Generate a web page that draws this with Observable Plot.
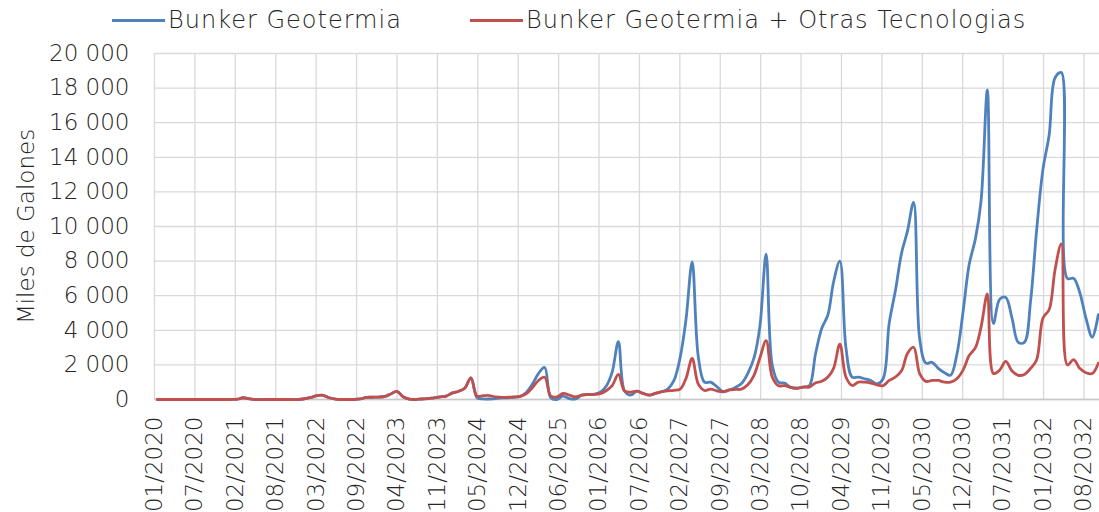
<!DOCTYPE html>
<html><head><meta charset="utf-8">
<script src="https://cdn.jsdelivr.net/npm/d3@7"></script>
<script src="https://cdn.jsdelivr.net/npm/@observablehq/plot@0.6"></script>
<style>
body{margin:0;background:#fff;font-family:"DejaVu Sans",sans-serif;color:#262626}
#wrap{position:relative;width:1099px;height:512px;overflow:hidden;background:#fff}
#legend{position:relative;height:40px;width:1099px;font-size:24px;letter-spacing:1px;font-weight:300}
.item{position:absolute;top:4px;height:32px;display:flex;align-items:center;white-space:nowrap}
.sw{display:inline-block;width:53px;height:3px;margin-right:3px}
</style></head>
<body><div id="wrap"><div id="legend"></div><div id="chart"></div></div>
<script>
// Series names
const seriesNames = ["Bunker Geotermia", "Bunker Geotermia + Otras Tecnologias"];
const seriesColors = ["#4F81BD", "#C0504D"];
// Monthly data from 01/2020 (one value per month)
const firstMonth = "2020-01";
const bunkerGeotermia = [
  0,0,0,0,0,0,0,0,0,0,0,0,0,20,100,40,0,0,0,0,0,0,0,0,
  50,120,220,240,100,20,0,0,0,30,120,130,140,180,320,470,160,20,0,30,50,100,150,200,
  380,480,650,1250,100,30,30,50,100,100,130,180,420,920,1500,1850,100,0,200,50,30,250,280,300,
  420,800,1580,3350,500,250,480,350,250,350,450,600,1100,2450,4570,7950,2500,1000,1000,750,450,550,700,920,
  1500,2400,4200,8400,2000,1000,950,700,650,720,800,2600,4100,4900,6800,8000,3000,1290,1290,1200,1100,900,1200,4400,
  6300,8500,9700,11400,3500,2100,2150,1800,1550,1400,2600,5000,7800,9300,11500,17900,4400,5800,5900,4700,3300,3300,5700,9800,
  13300,15300,18600,18900,7000,7000,6200,4700,3600,4900
];
const bunkerGeotermiaOtras = [
  0,0,0,0,0,0,0,0,0,0,0,0,0,20,100,40,0,0,0,0,0,0,0,0,
  50,120,220,240,100,20,0,0,0,30,120,130,140,180,320,470,160,20,0,30,50,100,150,200,
  380,480,650,1250,200,220,230,150,120,130,150,180,340,710,1100,1290,200,150,350,250,150,250,290,300,
  340,520,800,1450,500,420,480,350,250,350,450,500,530,600,1200,2370,900,520,600,500,450,550,580,600,
  850,1400,2400,3400,1300,800,800,700,650,720,720,950,1050,1300,1800,3200,1300,810,1000,1000,950,850,800,1100,
  1300,1680,2650,3020,1500,1050,1100,1100,1000,1000,1200,1680,2540,3000,4200,6100,1500,1700,2200,1650,1400,1450,1800,2300,
  4700,5200,7500,9000,2000,2300,1800,1550,1500,2100
];
// Axis ticks
const yTicks = [0,2000,4000,6000,8000,10000,12000,14000,16000,18000,20000];
const xTickLabels = ["01/2020","07/2020","02/2021","08/2021","03/2022","09/2022","04/2023","11/2023",
  "05/2024","12/2024","06/2025","01/2026","07/2026","02/2027","09/2027","03/2028","10/2028","04/2029",
  "11/2029","05/2030","12/2030","07/2031","01/2032","08/2032"];
const xTickStepDays = 200;
const yLabel = "Miles de Galones";

// Build table
const start = d3.utcParse("%Y-%m")(firstMonth);
const rows = [];
[bunkerGeotermia, bunkerGeotermiaOtras].forEach((vals, s) => {
  vals.forEach((v, i) => {
    rows.push({date: d3.utcDay.offset(d3.utcMonth.offset(start, i), 14), value: v, series: seriesNames[s]});
  });
});
const xTicks = xTickLabels.map((_, k) => d3.utcDay.offset(start, k * xTickStepDays));
const xEnd = d3.utcDay.offset(d3.utcMonth.offset(start, bunkerGeotermia.length - 1), 20);
const fmt = d3.formatLocale({decimal: ",", thousands: " ", grouping: [3], currency: ["", ""]}).format(",d");

// Legend
const legend = document.getElementById("legend");
const legendLeft = [112, 470];
seriesNames.forEach((n, i) => {
  const it = document.createElement("div");
  it.className = "item";
  it.style.left = legendLeft[i] + "px";
  it.innerHTML = `<span class="sw" style="background:${seriesColors[i]}"></span><span>${n}</span>`;
  legend.appendChild(it);
});

const chart = Plot.plot({
  width: 1099,
  height: 472,
  marginTop: 13,
  marginBottom: 113,
  marginLeft: 154,
  marginRight: 0,
  style: {fontFamily: "DejaVu Sans, sans-serif", fontSize: "23px", fontWeight: 300, color: "#262626", background: "#fff"},
  x: {type: "utc", domain: [start, xEnd]},
  y: {domain: [0, 20000]},
  color: {domain: seriesNames, range: seriesColors},
  marks: [
    Plot.gridY(yTicks, {stroke: "#d9d9d9", strokeOpacity: 1, strokeWidth: 1.3}),
    Plot.gridX(xTicks, {stroke: "#d9d9d9", strokeOpacity: 1, strokeWidth: 1.3}),
    Plot.ruleY([0], {stroke: "#c8c8c8", strokeWidth: 1.6}),
    Plot.axisY({ticks: yTicks, tickSize: 0, tickPadding: 25, tickFormat: fmt, label: null}),
    Plot.axisX({ticks: xTicks, tickSize: 0, tickPadding: 17, tickRotate: -90, tickFormat: (d, i) => xTickLabels[i], label: null}),
    Plot.text([yLabel], {frameAnchor: "left", textAnchor: "middle", dx: -128, rotate: -90, text: d => d, fontSize: 23, fill: "#262626"}),
    Plot.line(rows, {x: "date", y: "value", z: "series", stroke: "series", strokeWidth: 2.8, curve: "catmull-rom"})
  ]
});
document.getElementById("chart").appendChild(chart);
</script></body></html>
